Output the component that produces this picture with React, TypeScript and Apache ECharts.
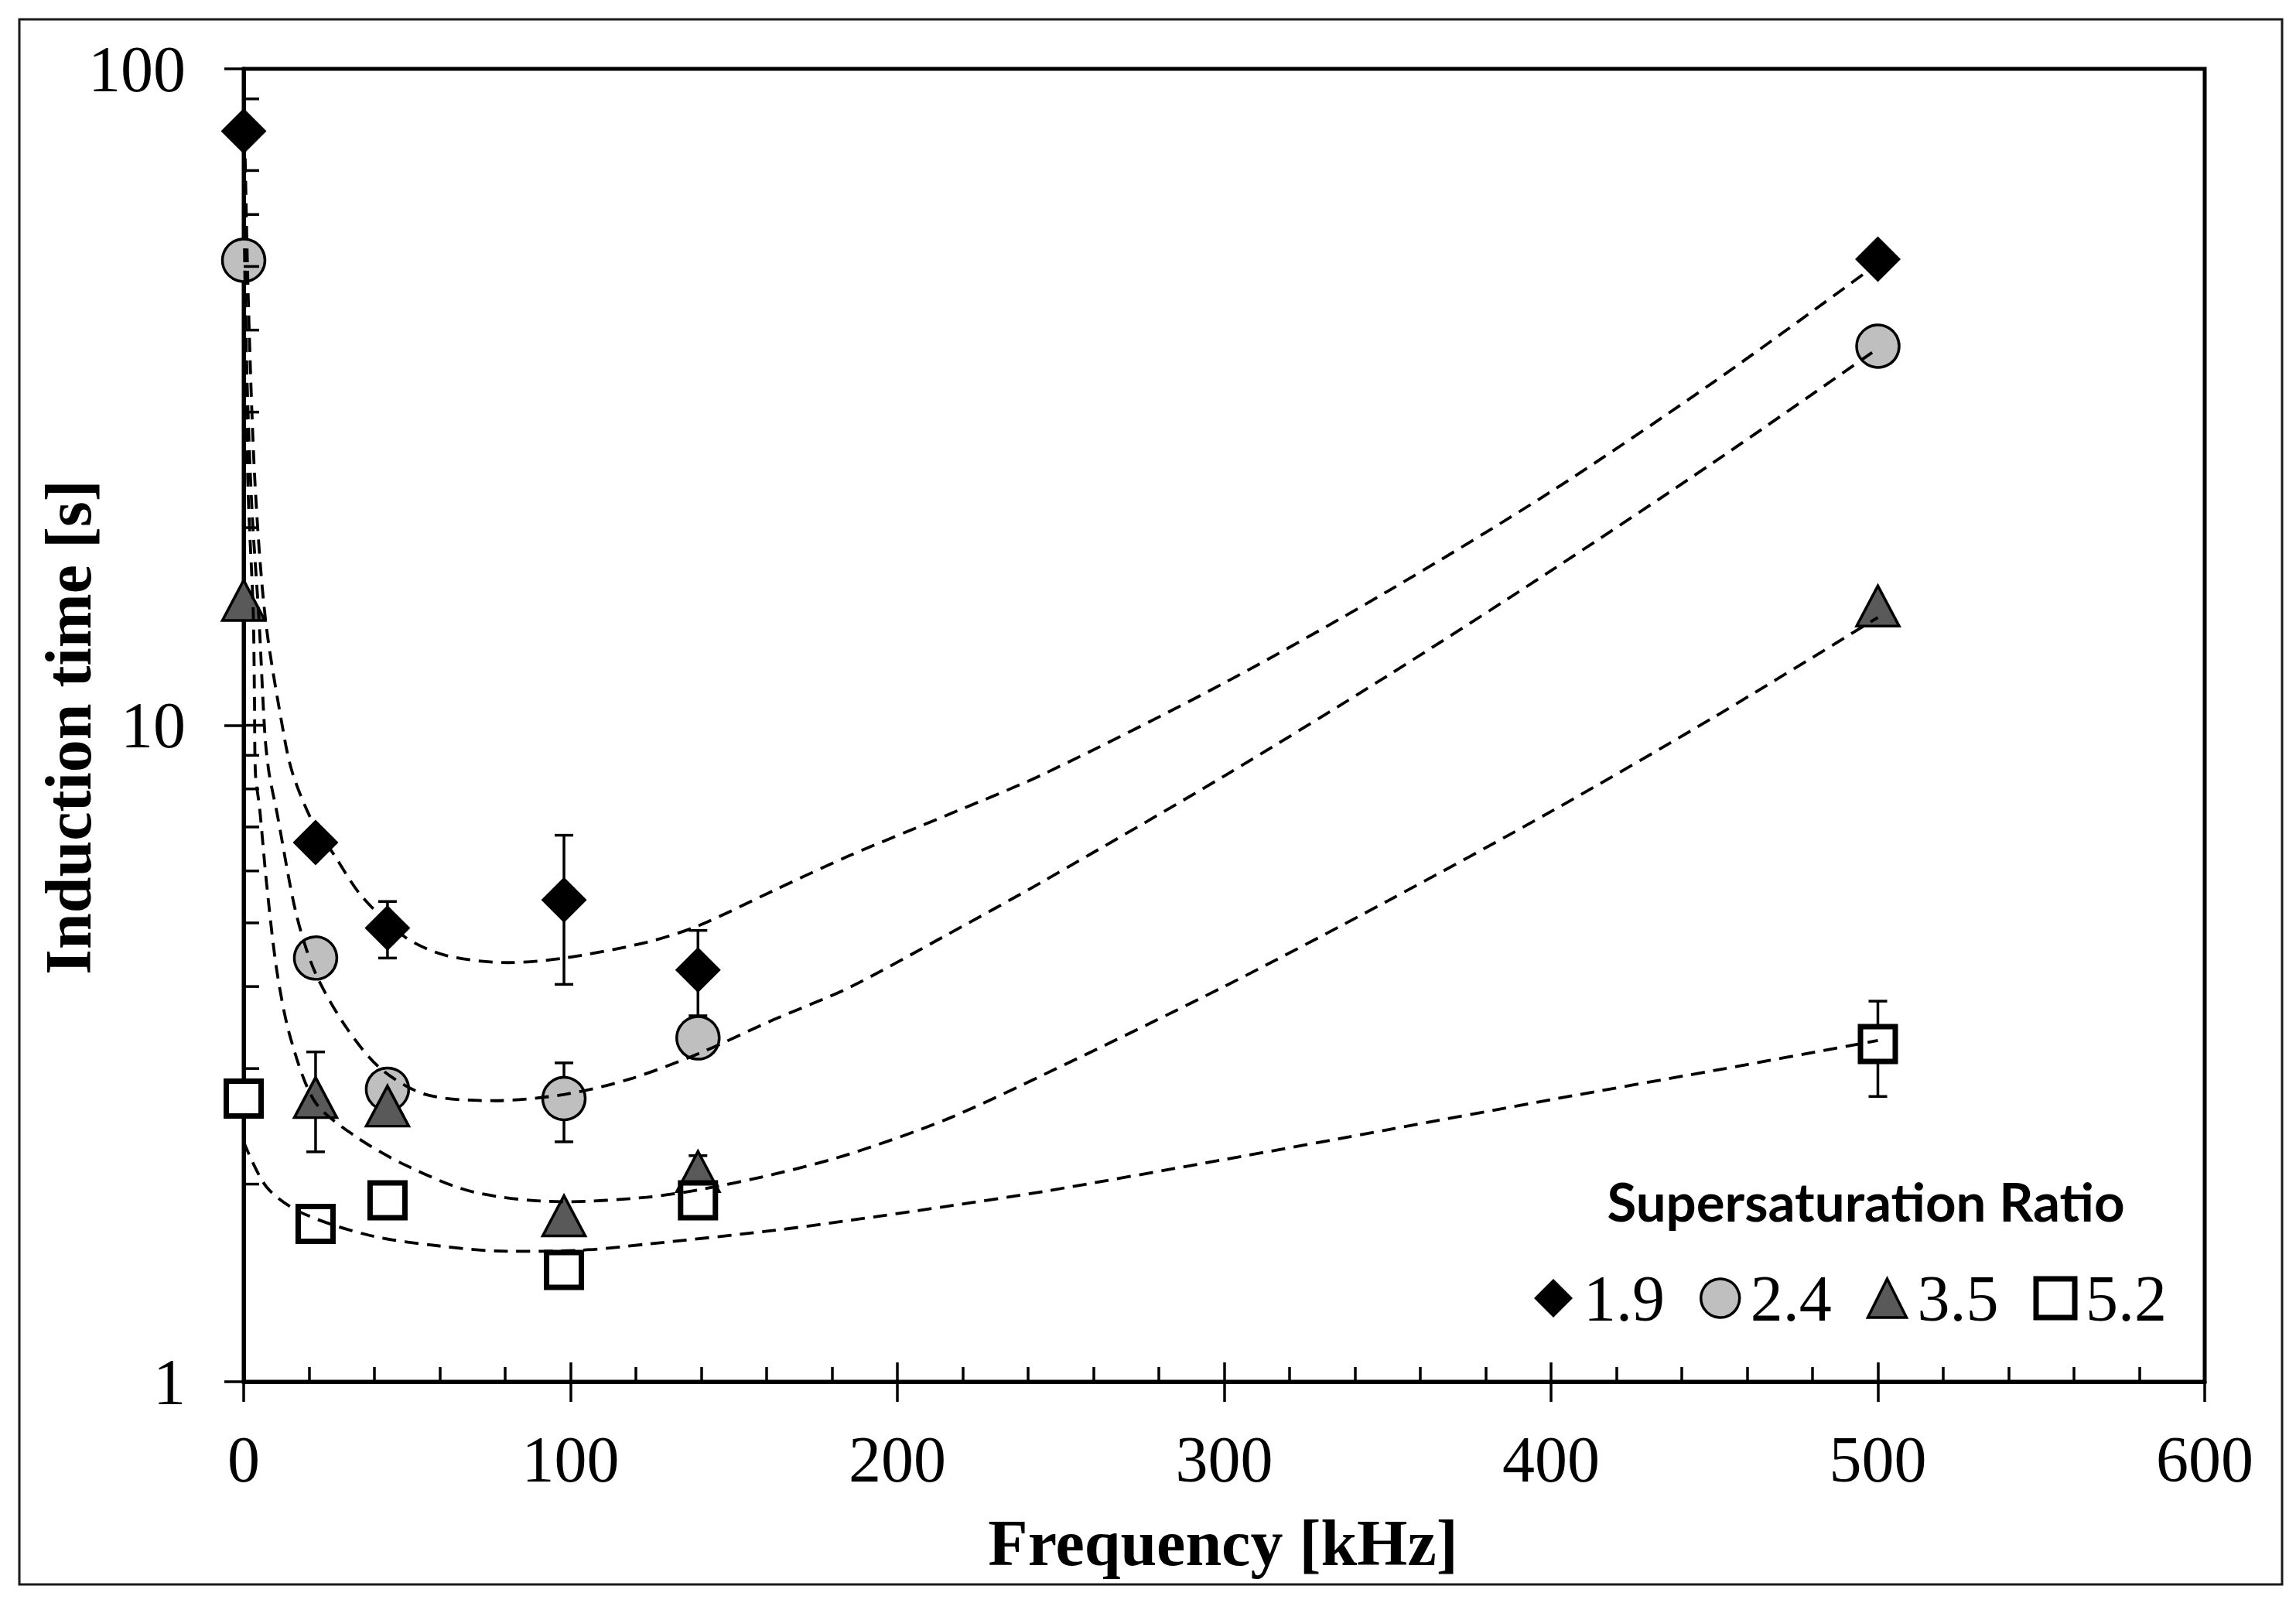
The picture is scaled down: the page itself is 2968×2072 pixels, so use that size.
import React, { useEffect, useRef } from 'react';
import * as echarts from 'echarts';

// ---- data ----
const FREQ = [0, 22, 44, 98, 139, 500];
const SERIES_NAMES = ['1.9', '2.4', '3.5', '5.2'];
const T_19 = [80.4, 6.63, 4.91, 5.42, 4.24, 51.3];
const T_24 = [51.1, 4.42, 2.79, 2.70, 3.34, 37.8];
const T_35 = [15.5, 2.71, 2.63, 1.79, 2.09, 15.2];
const T_52 = [2.70, 1.74, 1.89, 1.48, 1.89, 3.27];

// error bars: [frequency, low, high]
const ERR_19 = [[44, 4.42, 5.39], [98, 4.03, 6.80], [139, 3.61, 4.87]];
const ERR_24 = [[98, 2.32, 3.06]];
const ERR_35 = [[22, 2.24, 3.18], [139, 1.99, 2.21]];
const ERR_52 = [[500, 2.72, 3.80]];

// dashed trend curves: [frequency, time]
const TREND_19 = [[0, 100], [0.3, 80], [1.5, 43], [3.5, 23.2], [6.7, 14.45], [12.3, 9.67], [15, 8.44], [20.8, 7.17], [28.1, 6.3], [36, 5.5], [49.3, 4.76], [62, 4.46], [80.9, 4.35], [98.2, 4.42], [123.2, 4.67], [139.1, 4.95], [162.1, 5.6], [185, 6.32], [215, 7.29], [245, 8.44], [300, 11.6], [350, 16.0], [400, 22.7], [450, 33.4], [500, 50.5]];
const TREND_24 = [[0, 100], [0.3, 51], [1.2, 31.5], [2.6, 21], [4.7, 14.45], [6.5, 9.67], [7.8, 8.44], [10.2, 7.35], [16, 5.18], [21.8, 4.21], [31.3, 3.47], [41.9, 3.0], [55.6, 2.74], [76.8, 2.68], [98.2, 2.74], [118, 2.89], [139.1, 3.16], [162.1, 3.56], [185, 3.98], [215, 4.79], [245, 5.8], [300, 8.37], [350, 11.9], [400, 17.2], [450, 25.2], [500, 37.5]];
const TREND_35 = [[0, 100], [0.6, 43], [1.3, 23.2], [2.9, 15], [3.3, 11], [3.6, 8.44], [4.9, 7.46], [7, 5.75], [10.2, 4.21], [14.4, 3.33], [21.8, 2.67], [33.4, 2.38], [49.3, 2.14], [70.4, 1.945], [98.2, 1.88], [123.2, 1.91], [139.1, 1.96], [162.1, 2.07], [185, 2.22], [215, 2.51], [245, 2.94], [300, 4.0], [350, 5.4], [400, 7.39], [450, 10.3], [500, 14.6]];
const TREND_52 = [[0, 2.32], [7, 1.98], [17.6, 1.81], [38.7, 1.67], [59.9, 1.61], [80.9, 1.58], [102.1, 1.585], [123.2, 1.62], [162.1, 1.70], [185, 1.76], [215, 1.85], [245, 1.95], [300, 2.18], [350, 2.42], [400, 2.69], [450, 2.98], [500, 3.31]];

// axis ticks
const X_MIN = 0;
const X_MAX = 600;
const X_STEP = 100;
const Y_MIN = 1;
const Y_MAX = 100;
const Y_MAJOR = [1, 10, 100];
const Y_MINOR = [2, 3, 4, 5, 6, 7, 8, 9, 20, 30, 40, 50, 60, 70, 80, 90];

const SERIF = '"Liberation Serif", "Times New Roman", serif';

const pairs = (ys: number[]) => FREQ.map((f, i) => [f, ys[i]]);

const MARKERS = [
  { name: SERIES_NAMES[0], data: T_19, symbol: 'diamond', size: 59, style: { color: '#000000', borderWidth: 0 } },
  { name: SERIES_NAMES[1], data: T_24, symbol: 'circle', size: 55, style: { color: '#bfbfbf', borderColor: '#000000', borderWidth: 3.5 } },
  { name: SERIES_NAMES[2], data: T_35, symbol: 'triangle', size: [55, 52], style: { color: '#595959', borderColor: '#000000', borderWidth: 3.5 } },
  { name: SERIES_NAMES[3], data: T_52, symbol: 'rect', size: 45, style: { color: '#ffffff', borderColor: '#000000', borderWidth: 7 } },
];

function errorBarSeries(data: number[][]) {
  return {
    type: 'custom',
    silent: true,
    z: 1,
    encode: { x: 0, y: [1, 2] },
    data,
    renderItem: (params: any, api: any) => {
      const x = api.value(0);
      const lo = api.coord([x, api.value(1)]);
      const hi = api.coord([x, api.value(2)]);
      const hw = 12;
      const st = { stroke: '#000', lineWidth: 3.5 };
      return {
        type: 'group',
        children: [
          { type: 'line', shape: { x1: lo[0], y1: lo[1], x2: hi[0], y2: hi[1] }, style: st },
          { type: 'line', shape: { x1: lo[0] - hw, y1: lo[1], x2: lo[0] + hw, y2: lo[1] }, style: st },
          { type: 'line', shape: { x1: hi[0] - hw, y1: hi[1], x2: hi[0] + hw, y2: hi[1] }, style: st },
        ],
      };
    },
  };
}

function trendSeries(data: number[][]) {
  return {
    type: 'line',
    data,
    showSymbol: false,
    symbol: 'none',
    smooth: 0.3,
    silent: true,
    z: 3,
    clip: true,
    lineStyle: { color: '#000', width: 3.8, type: [18, 11] },
  };
}

function yTickSeries(values: number[], len: number) {
  return {
    type: 'custom',
    silent: true,
    z: 6,
    clip: false,
    data: values.map((v) => [X_MIN, v]),
    renderItem: (params: any, api: any) => {
      const p = api.coord([api.value(0), api.value(1)]);
      return {
        type: 'line',
        shape: { x1: p[0], y1: p[1], x2: p[0] + len, y2: p[1] },
        style: { stroke: '#000', lineWidth: 3.5 },
      };
    },
  };
}

function buildOption() {
  const tickLine = { color: '#000', width: 3.5 };
  return {
    animation: false,
    backgroundColor: '#ffffff',
    grid: {
      left: 315, right: 118, top: 89, bottom: 286,
      show: true, borderColor: '#000', borderWidth: 5, backgroundColor: 'transparent',
    },
    xAxis: [
      {
        type: 'value', min: X_MIN, max: X_MAX, interval: X_STEP, position: 'bottom',
        axisLine: { show: true, onZero: false, lineStyle: { color: '#000', width: 5 } },
        axisTick: { show: true, inside: false, length: 26, lineStyle: tickLine },
        axisLabel: { fontFamily: SERIF, fontSize: 84, color: '#000', margin: 58, lineHeight: 84 },
        splitLine: { show: false },
      },
      {
        type: 'value', min: X_MIN, max: X_MAX, interval: X_STEP, position: 'bottom',
        axisLine: { show: false },
        axisTick: { show: true, inside: true, length: 25, lineStyle: tickLine },
        minorTick: { show: true, splitNumber: 5, length: 19, lineStyle: tickLine },
        axisLabel: { show: false },
        splitLine: { show: false },
        minorSplitLine: { show: false },
      },
    ],
    yAxis: {
      type: 'log', logBase: 10, min: Y_MIN, max: Y_MAX,
      axisLine: { show: true, onZero: false, lineStyle: { color: '#000', width: 5 } },
      axisTick: { show: true, inside: false, length: 25, lineStyle: tickLine },
      axisLabel: { fontFamily: SERIF, fontSize: 84, color: '#000', margin: 75, lineHeight: 84 },
      splitLine: { show: false },
    },
    legend: {
      data: MARKERS.map((m) => ({ name: m.name, itemStyle: { ...m.style } })),
      left: 1983, top: 1636, orient: 'horizontal',
      itemWidth: 50, itemHeight: 50, itemGap: 45, padding: 0,
      selectedMode: false,
      textStyle: { fontFamily: SERIF, fontSize: 84, color: '#000', lineHeight: 50, padding: [0, 0, 0, 9] },
    },
    graphic: [
      {
        type: 'rect', z: -10, silent: true,
        shape: { x: 25, y: 25, width: 2925, height: 2023 },
        style: { fill: 'none', stroke: '#1a1a1a', lineWidth: 3 },
      },
      {
        type: 'text', x: 1581, y: 1994, silent: true,
        style: { text: 'Frequency [kHz]', fontFamily: SERIF, fontWeight: 'bold', fontSize: 84, fill: '#000', align: 'center', verticalAlign: 'middle' },
      },
      {
        type: 'text', x: 88, y: 940, rotation: Math.PI / 2, silent: true,
        style: { text: 'Induction time [s]', fontFamily: SERIF, fontWeight: 'bold', fontSize: 84, fill: '#000', align: 'center', verticalAlign: 'middle' },
      },
      {
        type: 'text', x: 2412, y: 1552, silent: true,
        style: { text: 'Supersaturation Ratio', fontFamily: 'Lato, "Open Sans", sans-serif', fontWeight: 'bold', fontSize: 69, fill: '#000', align: 'center', verticalAlign: 'middle' },
      },
    ],
    series: [
      errorBarSeries(ERR_19),
      errorBarSeries(ERR_24),
      errorBarSeries(ERR_35),
      errorBarSeries(ERR_52),
      ...MARKERS.map((m) => ({
        name: m.name,
        type: 'scatter',
        data: pairs(m.data),
        symbol: m.symbol,
        symbolSize: m.size,
        z: 2,
        itemStyle: { ...m.style, opacity: 1 },
        emphasis: { disabled: true },
      })),
      trendSeries(TREND_19),
      trendSeries(TREND_24),
      trendSeries(TREND_35),
      trendSeries(TREND_52),
      yTickSeries(Y_MINOR, 20),
      yTickSeries(Y_MAJOR, 25),
    ],
  };
}

export default function App() {
  const ref = useRef<HTMLDivElement>(null);
  useEffect(() => {
    document.body.style.margin = '0';
    const chart = echarts.init(ref.current as HTMLDivElement, null, { renderer: 'svg' });
    chart.setOption(buildOption() as any);
    return () => chart.dispose();
  }, []);
  return <div ref={ref} style={{ width: 2968, height: 2072, background: '#fff' }} />;
}
